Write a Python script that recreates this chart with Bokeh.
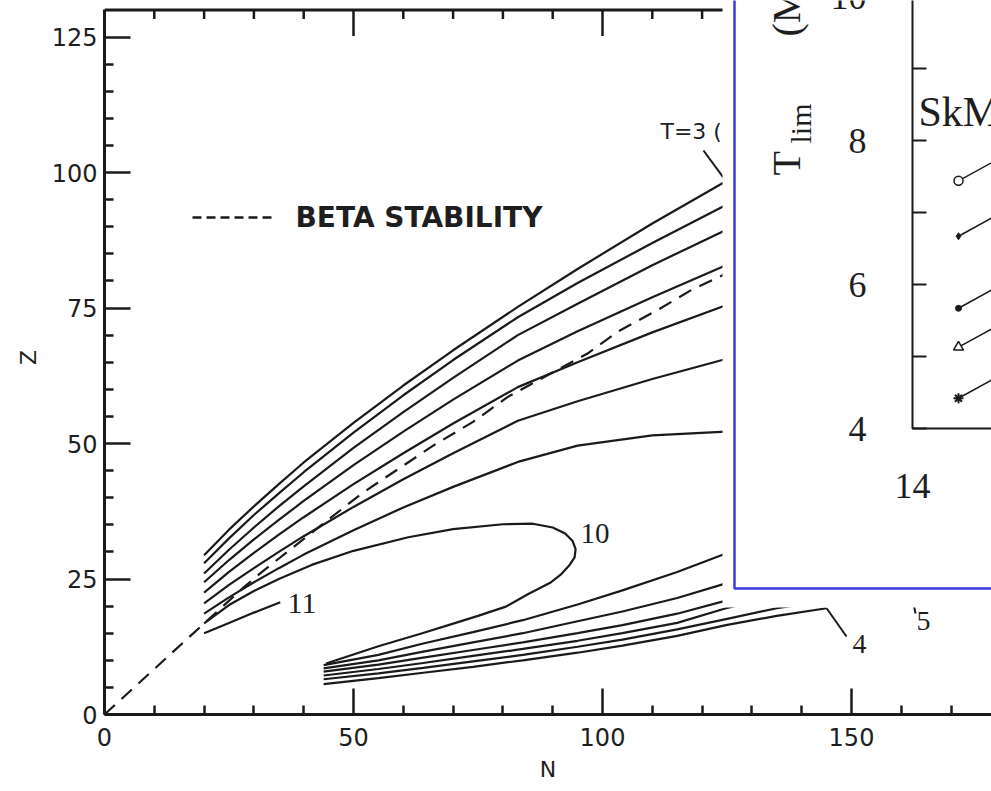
from math import pi
from bokeh.plotting import figure
from bokeh.models import Range1d, LinearAxis, FixedTicker
from bokeh.core.properties import value
from bokeh.embed import file_html
from bokeh.resources import INLINE

# ---------------- data ----------------
x_major_ticks = [0, 50, 100, 150]
x_minor_ticks = [10, 20, 30, 40, 60, 70, 80, 90, 110, 120, 130, 140, 160, 170]
y_major_ticks = [0, 25, 50, 75, 100, 125]
y_minor_ticks = [5, 10, 15, 20, 30, 35, 40, 45, 55, 60, 65, 70, 80, 85, 90, 95,
                 105, 110, 115, 120]
top_major_ticks = [50, 100]
top_minor_ticks = [10, 20, 30, 40, 60, 70, 80, 90, 110, 120]

# upper family of T contours (proton-rich side)
upper_N = [20, 25, 30, 35, 40, 50, 60, 70, 83, 95, 110, 124.8, 130]
T3 = [29.4, 34.1, 38.4, 42.5, 46.5, 53.8, 60.7, 67.2, 75.2, 82.2, 90.6, 98.4, 101.1]
T4 = [27.9, 32.5, 36.8, 40.8, 44.7, 52.0, 58.9, 65.4, 73.3, 79.6, 87.0, 94.0, 96.4]
T5 = [26.0, 30.4, 34.5, 38.4, 42.1, 49.2, 55.8, 62.1, 70.0, 75.8, 82.9, 89.4, 91.7]
T6 = [24.4, 28.5, 32.3, 35.9, 39.4, 46.0, 52.2, 58.1, 65.3, 70.7, 77.0, 82.9, 84.9]
T7 = [22.5, 26.3, 29.8, 33.2, 36.4, 42.5, 48.2, 53.7, 60.4, 65.0, 70.5, 75.5, 77.2]
T8 = [20.5, 23.9, 27.0, 30.0, 32.9, 38.3, 43.4, 48.2, 54.2, 57.8, 61.9, 65.6, 66.9]
T9 = [18.6, 21.6, 24.4, 27.0, 29.5, 34.0, 38.2, 42.0, 46.6, 49.6, 51.5, 52.2, 52.3]

T11_N = [20, 25, 30, 35.3]
T11_Z = [15.0, 16.9, 18.8, 20.7]

T10_N = [20, 25, 30, 35, 41.6, 50, 61, 70, 80, 86, 90, 92.5, 94.0, 94.6, 94.4,
         93.4, 91.6, 89.5, 85, 80.6, 75, 70.5, 63.8, 55, 44.5]
T10_Z = [16.8, 20.2, 22.8, 25.0, 27.6, 30.2, 32.7, 34.2, 35.1, 35.2, 34.5, 33.4,
         32.0, 30.5, 29.0, 27.6, 25.8, 24.3, 22.2, 19.9, 18.2, 16.9, 15.0, 12.6, 9.4]

# lower family (neutron-rich side)
lower_N = [44, 55, 64, 74, 84, 95, 104, 115, 124.8, 135, 145, 162]
L9 = [9.1, 11.0, 13.1, 15.2, 17.4, 20.3, 22.9, 26.3, 29.7, 32.5]
L8 = [8.5, 10.0, 11.6, 13.3, 15.0, 17.2, 19.0, 21.5, 24.2, 26.8]
L7 = [7.9, 9.2, 10.5, 11.9, 13.3, 15.0, 16.5, 18.6, 21.0, 23.2]
L6 = [7.2, 8.4, 9.5, 10.8, 12.1, 13.6, 15.0, 16.9, 19.6, 21.8]
L5 = [6.5, 7.6, 8.6, 9.8, 11.0, 12.5, 13.8, 15.7, 17.6, 19.6, 21.0, 22.5]
L4 = [5.6, 6.7, 7.7, 8.8, 10.0, 11.4, 12.7, 14.5, 16.5, 18.2, 19.6]

beta_N = [0, 20, 28, 32, 45, 52, 66, 74, 81, 97, 103, 111, 118, 124, 130]
beta_Z = [0, 16.8, 23.5, 26.6, 36, 41, 49.6, 54, 58.6, 66.6, 70.6, 74.6, 78.4, 81, 83.5]

# inset (T_lim) data
inset_x = [14.5, 15.5]
inset_circle = [7.44, 8.14]
inset_plus = [6.67, 7.37]
inset_dot = [5.67, 6.37]
inset_tri = [5.13, 5.83]
inset_x_mark = [4.42, 5.12]
inset_yticks = [4, 5, 6, 7, 8, 9, 10]
inset_ylabel_vals = [4, 6, 8, 10]
inset_ylabels = ["4", "6", "8", "10"]
inset_xlabel_vals = [14]
inset_xlabels = ["14"]

# ---------------- layout helpers ----------------
W, H = 991, 791
PX_L, PX_R, PX_B, PX_T = 104, 991, 714, 0
SX, SY = 4.98, 5.42  # pixels per unit


def dx(px):
    return (px - PX_L) / SX


def dy(py):
    return (PX_B - py) / SY


INK = "#1a1a1a"
TXT = "#1e1e1e"
SANS = "DejaVu Sans"
SERIF = "Liberation Serif"
LW = 2.2

p = figure(width=W, height=H, x_range=Range1d(0, dx(PX_R)), y_range=Range1d(0, dy(PX_T)),
           x_axis_type=None, y_axis_type=None, toolbar_location=None,
           output_backend="svg", min_border_left=PX_L, min_border_right=0,
           min_border_top=0, min_border_bottom=H - PX_B, outline_line_color=None)
p.xgrid.visible = False
p.ygrid.visible = False

# inset ranges (inset x = 14 at px 912, 92 px/unit; inset y = 4 at px 428, 72 px/unit)
IX0, IXS, IY0, IYS = 912, 92.0, 428, 72.0
p.extra_x_ranges = {"ix": Range1d(14 - (IX0 - PX_L) / IXS, 14 + (PX_R - IX0) / IXS)}
p.extra_y_ranges = {"iy": Range1d(4 - (PX_B - IY0) / IYS, 4 + (IY0 - PX_T) / IYS)}


def style_axis(ax):
    ax.axis_line_width = 3
    ax.axis_line_color = INK
    ax.major_tick_in = 26
    ax.major_tick_out = 0
    ax.minor_tick_in = 9
    ax.minor_tick_out = 0
    ax.major_tick_line_width = 2.5
    ax.minor_tick_line_width = 2.5
    ax.major_tick_line_color = INK
    ax.minor_tick_line_color = INK
    ax.major_label_text_font = SANS
    ax.major_label_text_font_size = "24px"
    ax.major_label_text_color = TXT
    ax.axis_label_text_font = SANS
    ax.axis_label_text_font_size = "22px"
    ax.axis_label_text_font_style = "normal"
    ax.axis_label_text_color = TXT


xax = LinearAxis(ticker=FixedTicker(ticks=x_major_ticks, minor_ticks=x_minor_ticks),
                 axis_label="N")
style_axis(xax)
xax.major_label_standoff = 13
xax.axis_label_standoff = 8
p.add_layout(xax, "below")

yax = LinearAxis(ticker=FixedTicker(ticks=y_major_ticks, minor_ticks=y_minor_ticks),
                 axis_label="Z", bounds=(0, 130))
style_axis(yax)
yax.major_label_standoff = 7
yax.axis_label_standoff = 8
p.add_layout(yax, "left")

# top border of main frame with inward ticks
p.segment(x0=[0], y0=[130], x1=[dx(PX_R)], y1=[130], line_color=INK, line_width=3)
p.segment(x0=top_major_ticks, y0=[130] * len(top_major_ticks), x1=top_major_ticks,
          y1=[130 - 26 / SY] * len(top_major_ticks), line_color=INK, line_width=2.5)
p.segment(x0=top_minor_ticks, y0=[130] * len(top_minor_ticks), x1=top_minor_ticks,
          y1=[130 - 9 / SY] * len(top_minor_ticks), line_color=INK, line_width=2.5)

# beta stability line
p.line(beta_N, beta_Z, line_color=INK, line_width=LW, line_dash="14 9")

# contours
for z in [T3, T4, T5, T6, T7, T8, T9]:
    p.line(upper_N, z, line_color=INK, line_width=LW)
p.line(T11_N, T11_Z, line_color=INK, line_width=LW)
p.line(T10_N, T10_Z, line_color=INK, line_width=LW)
for z in [L9, L8, L7, L6, L5, L4]:
    p.line(lower_N[:len(z)], z, line_color=INK, line_width=LW)

# legend for beta stability
p.line([dx(192), dx(275)], [dy(217), dy(217)], line_color=INK, line_width=2.5,
       line_dash="9 5")
p.text(x=[dx(295)], y=[dy(217)], text=["BETA STABILITY"], text_font=value(SANS),
       text_font_size=value("28px"), text_font_style="bold", text_color=TXT,
       text_baseline="middle", text_align="left")

# contour labels
p.text(x=[dx(660)], y=[dy(131)], text=["T=3 (MeV)"], text_font=value(SANS),
       text_font_size=value("22px"), text_color=TXT, text_baseline="middle")
p.line([dx(703), upper_N[11]], [dy(150), T3[11]], line_color=INK, line_width=2)
p.text(x=[dx(580)], y=[dy(533)], text=["10"], text_font=value(SERIF),
       text_font_size=value("29px"), text_color=TXT, text_baseline="middle")
p.text(x=[dx(287)], y=[dy(603)], text=["11"], text_font=value(SERIF),
       text_font_size=value("30px"), text_color=TXT, text_baseline="middle")
p.line([lower_N[10], dx(846)], [L4[10], dy(636)], line_color=INK, line_width=2)
p.text(x=[dx(852)], y=[dy(643)], text=["4"], text_font=value(SERIF),
       text_font_size=value("28px"), text_color=TXT, text_baseline="middle")
p.line([lower_N[11], dx(915)], [L5[11], dy(613)], line_color=INK, line_width=2)
p.text(x=[dx(916)], y=[dy(620)], text=["5"], text_font=value(SERIF),
       text_font_size=value("28px"), text_color=TXT, text_baseline="middle")

# ---------------- inset ----------------
p.quad(left=[dx(722)], right=[dx(PX_R) + 20], bottom=[dy(607)], top=[dy(PX_T) + 20],
       fill_color="white", line_color=None)
p.quad(left=[dx(734)], right=[dx(PX_R) + 20], bottom=[dy(588)], top=[dy(PX_T) + 20],
       fill_color=None, line_color="#3a3ae0", line_width=2.5)

I = dict(x_range_name="ix", y_range_name="iy")
p.line([14, 14, 20], [12, 4, 4], line_color=INK, line_width=2, **I)
p.segment(x0=[14] * len(inset_yticks), y0=inset_yticks,
          x1=[14 + 14 / IXS] * len(inset_yticks), y1=inset_yticks,
          line_color=INK, line_width=2, **I)
p.text(x=[14 - 46 / IXS] * len(inset_ylabel_vals), y=inset_ylabel_vals, text=inset_ylabels,
       text_font=value(SERIF), text_font_size=value("36px"), text_color=TXT,
       text_align="right", text_baseline="middle", **I)
p.text(x=inset_xlabel_vals, y=[4 - 57 / IYS], text=inset_xlabels,
       text_font=value(SERIF), text_font_size=value("36px"), text_color=TXT,
       text_align="center", text_baseline="middle", **I)
# rotated y label  T_lim (MeV)
p.text(x=[14 - (IX0 - 786) / IXS], y=[4 + (IY0 - 175) / IYS], text=["T"], angle=pi / 2,
       text_font=value(SERIF), text_font_size=value("40px"), text_color=TXT,
       text_align="left", text_baseline="alphabetic", **I)
p.text(x=[14 - (IX0 - 800) / IXS], y=[4 + (IY0 - 143) / IYS], text=["lim"], angle=pi / 2,
       text_font=value(SERIF), text_font_size=value("30px"), text_color=TXT,
       text_align="left", text_baseline="alphabetic", **I)
p.text(x=[14 - (IX0 - 786) / IXS], y=[4 + (IY0 - 36) / IYS], text=["(MeV)"], angle=pi / 2,
       text_font=value(SERIF), text_font_size=value("40px"), text_color=TXT,
       text_align="left", text_baseline="alphabetic", **I)
p.text(x=[14 + 6 / IXS], y=[4 + (IY0 - 111) / IYS], text=["SkM*"],
       text_font=value(SERIF), text_font_size=value("42px"), text_color=TXT,
       text_align="left", text_baseline="alphabetic", **I)

for ys in [inset_circle, inset_plus, inset_dot, inset_tri, inset_x_mark]:
    p.line(inset_x, ys, line_color=INK, line_width=1.5, **I)
p.scatter([inset_x[0]], [inset_circle[0]], marker="circle", size=9, fill_color="white",
          line_color=INK, line_width=1.5, **I)
p.scatter([inset_x[0]], [inset_plus[0]], marker="diamond", size=7, fill_color=INK,
          line_color=INK, **I)
p.scatter([inset_x[0]], [inset_dot[0]], marker="circle", size=6, fill_color=INK,
          line_color=INK, **I)
p.scatter([inset_x[0]], [inset_tri[0]], marker="triangle", size=10, fill_color="white",
          line_color=INK, line_width=1.5, **I)
p.scatter([inset_x[0]], [inset_x_mark[0]], marker="asterisk", size=10, line_color=INK,
          line_width=2, **I)

open("out.html", "w").write(file_html(p, INLINE))
